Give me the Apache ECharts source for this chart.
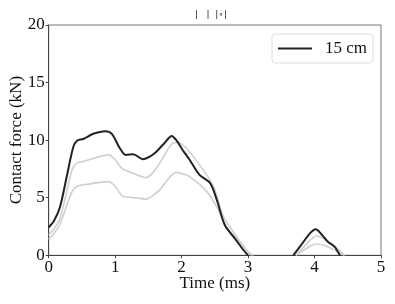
<!DOCTYPE html>
<html><head><meta charset="utf-8">
<script src="https://cdn.jsdelivr.net/npm/echarts@6/dist/echarts.min.js"></script>
<style>html,body{margin:0;padding:0;background:#fff}#c{width:395px;height:304px}</style>
</head><body><div id="c"></div>
<script>
const titleText = "|   |  |∘|";
const legendName = "15 cm";
const xTicks = [0, 1, 2, 3, 4, 5];
const yTicks = [0, 5, 10, 15, 20];

const tBlack = [0, 0.08, 0.17, 0.27, 0.37, 0.43, 0.52, 0.67, 0.85, 0.95, 1.07, 1.16, 1.27, 1.42, 1.52, 1.62, 1.75, 1.85, 1.92, 2.02, 2.12, 2.27, 2.43, 2.53, 2.65, 2.80, 2.93, 3.0, 3.3, 3.68, 3.80, 3.93, 4.02, 4.10, 4.20, 4.30, 4.38];
const vBlack = [2.43, 3.0, 4.2, 6.8, 9.4, 9.97, 10.1, 10.55, 10.78, 10.55, 9.3, 8.72, 8.78, 8.35, 8.57, 9.0, 9.8, 10.37, 10.0, 9.1, 8.3, 6.98, 6.26, 4.8, 2.63, 1.47, 0.46, 0, null, 0, 0.9, 1.9, 2.26, 1.85, 1.18, 0.75, 0];

const tMid = [0, 0.08, 0.17, 0.27, 0.35, 0.42, 0.52, 0.72, 0.9, 1.0, 1.1, 1.27, 1.47, 1.57, 1.67, 1.87, 1.95, 2.07, 2.27, 2.48, 2.63, 2.83, 3.0, 3.08, 3.4, 3.72, 3.85, 4.03, 4.15, 4.3, 4.45];
const vMid = [1.77, 2.3, 3.2, 5.5, 7.4, 8.0, 8.14, 8.5, 8.72, 8.3, 7.57, 7.13, 6.75, 7.2, 8.0, 9.74, 9.8, 9.3, 7.85, 5.97, 3.36, 1.6, 0.3, 0, null, 0, 0.8, 1.68, 1.4, 0.8, 0];

const tLow = [0, 0.08, 0.17, 0.27, 0.35, 0.42, 0.62, 0.9, 1.0, 1.12, 1.32, 1.47, 1.57, 1.67, 1.92, 2.0, 2.12, 2.38, 2.58, 2.66, 2.88, 3.05, 3.4, 3.72, 3.85, 4.03, 4.15, 4.3, 4.45];
const vLow = [1.4, 1.9, 2.7, 4.3, 5.5, 5.97, 6.2, 6.4, 6.0, 5.1, 5.0, 4.87, 5.2, 5.68, 7.2, 7.1, 6.84, 5.53, 3.65, 2.5, 1.04, 0, null, 0, 0.5, 0.98, 0.85, 0.45, 0];

const pair = (t, v) => t.map((x, i) => [x, v[i]]);
const font = "Liberation Serif";
const chart = echarts.init(document.getElementById('c'));
chart.setOption({
  animation: false,
  textStyle: { fontFamily: font },
  title: { text: titleText, left: 211, top: 10, textAlign: 'center', padding: 0,
    textStyle: { fontFamily: "DejaVu Sans", fontSize: 9, fontWeight: 'normal', color: '#222', lineHeight: 10 } },
  legend: {
    data: [legendName], right: 22, top: 34, orient: 'vertical',
    itemWidth: 34, itemHeight: 2, itemGap: 5, padding: [6, 6, 6, 6],
    backgroundColor: '#fff', borderColor: '#ddd', borderWidth: 1, borderRadius: 3,
    textStyle: { fontFamily: font, fontSize: 17, color: '#111', padding: [0, 0, 0, 8] },
    icon: 'rect'
  },
  grid: { left: 48.7, right: 14, top: 25, bottom: 48.7, outerBoundsMode: 'none', containLabel: false,
    show: true, borderColor: '#777', borderWidth: 1, backgroundColor: 'transparent' },
  xAxis: {
    type: 'value', min: 0, max: 5, interval: 1,
    name: 'Time (ms)', nameLocation: 'middle', nameGap: 20, nameMoveOverlap: false,
    nameTextStyle: { fontFamily: font, fontSize: 17, color: '#111' },
    axisLine: { show: true, lineStyle: { color: '#444', width: 1 } },
    axisTick: { show: true, length: 3, lineStyle: { color: '#444' } },
    axisLabel: { fontFamily: font, fontSize: 17, color: '#111', margin: 4 },
    splitLine: { show: false }
  },
  yAxis: {
    type: 'value', min: 0, max: 20, interval: 5,
    name: 'Contact force (kN)', nameLocation: 'middle', nameGap: 24, nameMoveOverlap: false,
    nameTextStyle: { fontFamily: font, fontSize: 17, color: '#111' },
    axisLine: { show: true, lineStyle: { color: '#444', width: 1 } },
    axisTick: { show: true, length: 3, lineStyle: { color: '#444' } },
    axisLabel: { fontFamily: font, fontSize: 17, color: '#111', margin: 4 },
    splitLine: { show: false }
  },
  series: [
    { name: 'low', type: 'line', data: pair(tLow, vLow), smooth: 0.3, showSymbol: false, symbol: 'none',
      lineStyle: { color: '#cfcfcf', width: 1.6 }, itemStyle: { color: '#cfcfcf' }, z: 2 },
    { name: 'mid', type: 'line', data: pair(tMid, vMid), smooth: 0.3, showSymbol: false, symbol: 'none',
      lineStyle: { color: '#cfcfcf', width: 1.6 }, itemStyle: { color: '#cfcfcf' }, z: 2 },
    { name: legendName, type: 'line', data: pair(tBlack, vBlack), smooth: 0.3, showSymbol: false, symbol: 'none',
      lineStyle: { color: '#222', width: 2 }, itemStyle: { color: '#222' }, z: 3 }
  ]
});
</script></body></html>
